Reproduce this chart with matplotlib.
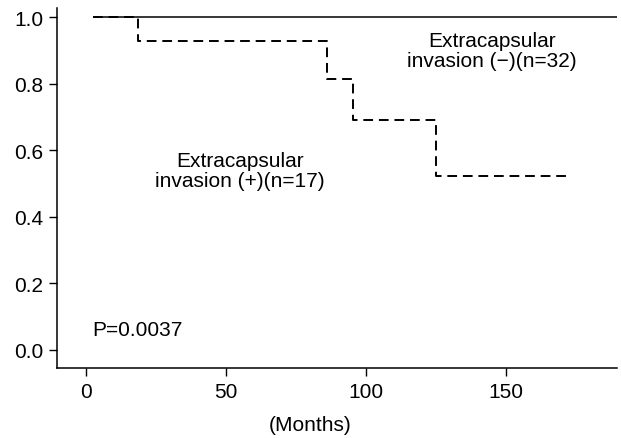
import matplotlib
matplotlib.use("Agg")
import matplotlib.pyplot as plt

plt.rcParams['font.family'] = ['Liberation Sans', 'DejaVu Sans']

# Kaplan-Meier curves
months_neg = [2.4, 190]
surv_neg = [1.0, 1.0]
months_pos = [2.4, 18.5, 86, 95.5, 125, 172.2]
surv_pos = [1.0, 0.93, 0.814, 0.692, 0.524, 0.524]

xticks = [0, 50, 100, 150]
yticks = [0.0, 0.2, 0.4, 0.6, 0.8, 1.0]

fs = 15

fig = plt.figure(figsize=(6.21, 4.39), dpi=100)
ax = fig.add_axes([0.0923, 0.1588, 0.9013, 0.82])

ax.plot(months_neg, surv_neg, color='black', lw=1.1, solid_capstyle='butt')
ax.step(months_pos, surv_pos, where='post', color='black', lw=1.4,
        linestyle=(0, (5, 3)))

ax.set_xlim(-10.2, 189.6)
ax.set_ylim(-0.055, 1.027)
ax.set_xticks(xticks)
ax.set_yticks(yticks)
ax.set_yticklabels([f'{v:.1f}' for v in yticks])
ax.tick_params(labelsize=fs, length=6, width=1, pad=4)

for side in ['top', 'right']:
    ax.spines[side].set_visible(False)
for side in ['left', 'bottom']:
    ax.spines[side].set_linewidth(1.1)

ax.set_xlabel('(Months)', fontsize=fs)
ax.xaxis.set_label_coords(0.4515, -0.13)

ax.text(145, 0.9, 'Extracapsular\ninvasion (\u2212)(n=32)', fontsize=fs,
        ha='center', va='center', linespacing=1.1)
ax.text(55, 0.54, 'Extracapsular\ninvasion (+)(n=17)', fontsize=fs,
        ha='center', va='center', linespacing=1.1)
ax.text(2.3, 0.063, 'P=0.0037', fontsize=fs, ha='left', va='center')

fig.savefig('out.png', dpi=100)
